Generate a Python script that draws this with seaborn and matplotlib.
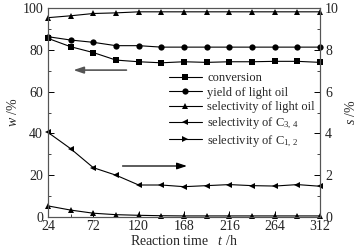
import matplotlib
matplotlib.use("Agg")
import matplotlib.pyplot as plt
from matplotlib.lines import Line2D
from matplotlib.ticker import MultipleLocator
import seaborn as sns

# reaction time, h
hours = [24, 48, 72, 96, 120, 144, 168, 192, 216, 240, 264, 288, 312]

# left axis, w /%
conversion = [85.5, 81.5, 78.7, 75.1, 74.3, 73.8, 74.3, 74.0, 74.3, 74.3, 74.5, 74.5, 74.0]
yield_light_oil = [86.3, 84.7, 83.6, 82.0, 82.0, 81.3, 81.3, 81.3, 81.3, 81.3, 81.3, 81.3, 81.3]
sel_light_oil = [95.4, 96.3, 97.4, 97.7, 98.2, 98.2, 98.2, 98.2, 98.2, 98.2, 98.2, 98.2, 98.2]

# right axis, s /%
sel_c34 = [4.05, 3.27, 2.36, 2.0, 1.53, 1.53, 1.45, 1.5, 1.55, 1.5, 1.48, 1.55, 1.47]
sel_c12 = [0.53, 0.33, 0.18, 0.11, 0.08, 0.06, 0.05, 0.05, 0.05, 0.05, 0.05, 0.05, 0.05]

labels = ["conversion", "yield of light oil", "selectivity of light oil",
          "selectivity of C$_{3,\\,4}$", "selectivity of C$_{1,\\,2}$"]

sns.set_style("ticks")
plt.rcParams["font.family"] = ["Liberation Serif", "DejaVu Serif"]
plt.rcParams["mathtext.fontset"] = "custom"
plt.rcParams["mathtext.rm"] = "Liberation Serif"
plt.rcParams["mathtext.it"] = "Liberation Serif:italic"

fig = plt.figure(figsize=(3.63, 2.52), dpi=100)
ax = fig.add_axes([0.132, 0.139, 0.750, 0.829])
ax2 = ax.twinx()

for vals, m in [(conversion, "s"), (yield_light_oil, "o"), (sel_light_oil, "^")]:
    sns.lineplot(x=hours, y=vals, marker=m, color="k", linewidth=0.8,
                 markersize=4.5, markeredgewidth=0, clip_on=False, ax=ax)
sns.lineplot(x=hours, y=sel_c34, marker="<", color="k", linewidth=0.8,
             markersize=4.5, markeredgewidth=0, clip_on=False, ax=ax2)
sns.lineplot(x=hours, y=sel_c12, marker="^", color="k", linewidth=0.8,
             markersize=4.5, markeredgewidth=0, clip_on=False, ax=ax2)

ax.set_xlim(24, 312)
ax.set_ylim(0, 100)
ax2.set_ylim(0, 10)
ax.set_xticks([24, 72, 120, 168, 216, 264, 312])
ax.xaxis.set_minor_locator(MultipleLocator(24))
ax.yaxis.set_minor_locator(MultipleLocator(10))
ax2.yaxis.set_minor_locator(MultipleLocator(1))
for a in (ax, ax2):
    a.tick_params(direction="in", labelsize=10, length=4, width=0.7, colors="k",
                  labelcolor="#222222")
    a.tick_params(which="minor", direction="in", length=2, width=0.6)
    for s in a.spines.values():
        s.set_color("#555555")
        s.set_linewidth(0.8)
ax.tick_params(axis="x", pad=2)

ax.set_xlabel("Reaction time   $t$ /h", fontsize=10, labelpad=1)
ax.set_ylabel("$w$ /%", fontsize=10, labelpad=2)
ax2.set_ylabel("$s$ /%", fontsize=10, labelpad=4)

# arrows pointing to the matching axis
ax.annotate("", xy=(48, 70.3), xytext=(110, 70.3),
            arrowprops=dict(arrowstyle="-|>,head_length=0.6,head_width=0.2",
                            color="#555555", lw=1.2))
ax.annotate("", xy=(174, 24.4), xytext=(100, 24.4),
            arrowprops=dict(arrowstyle="-|>,head_length=0.6,head_width=0.2",
                            color="k", lw=0.9))

handles = [Line2D([], [], color="k", lw=0.8, marker=m, markersize=4.5,
                  markeredgewidth=0) for m in ["s", "o", "^", "<", ">"]]
ax.legend(handles, labels, loc="center left", bbox_to_anchor=(0.434, 0.51),
          frameon=False, fontsize=9, handlelength=2.7, handletextpad=0.4,
          labelspacing=0.2, borderpad=0.2, borderaxespad=0)

fig.savefig("out.png", dpi=100)
